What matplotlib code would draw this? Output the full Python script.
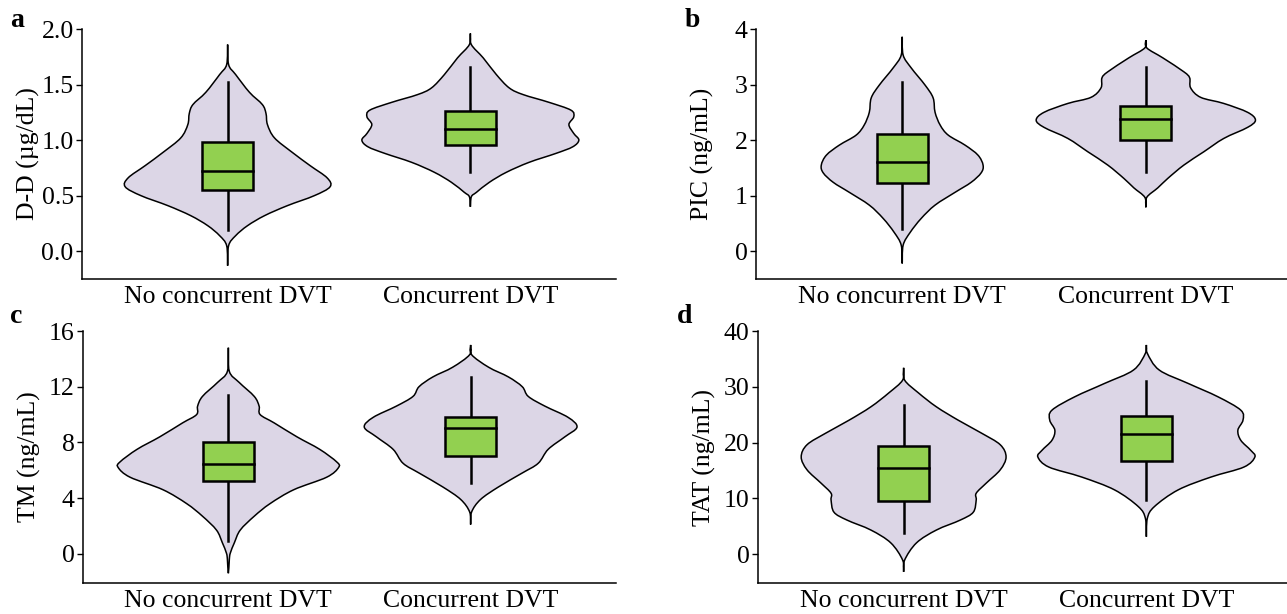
import numpy as np
import matplotlib
matplotlib.use("Agg")
import matplotlib.pyplot as plt
from matplotlib.path import Path
from matplotlib.patches import PathPatch, Rectangle

plt.rcParams['font.family'] = ['Liberation Serif', 'DejaVu Serif']

groups = ["No concurrent DVT", "Concurrent DVT"]

# violin outlines: value levels and half-widths (x units)
a_no_y = [1.86, 1.68, 1.59, 1.43, 1.32, 1.24, 1.14, 1.02, 0.89, 0.77, 0.66, 0.58, 0.50, 0.41, 0.32, 0.23, 0.14, 0.05, -0.13]
a_no_w = [0, .004, .033, .09, .143, .158, .164, .193, .266, .34, .41, .422, .357, .246, .152, .082, .033, .004, 0]
a_yes_y = [1.96, 1.86, 1.74, 1.59, 1.47, 1.41, 1.34, 1.27, 1.21, 1.14, 1.06, 1.00, 0.94, 0.88, 0.80, 0.71, 0.62, 0.53, 0.49, 0.40]
a_yes_w = [0, .004, .053, .107, .16, .217, .324, .414, .426, .406, .426, .447, .422, .352, .242, .148, .078, .025, .004, 0]

b_no_y = [3.86, 3.53, 3.30, 2.99, 2.76, 2.50, 2.27, 2.09, 1.91, 1.73, 1.55, 1.41, 1.24, 1.06, 0.83, 0.59, 0.34, 0.11, -0.22]
b_no_w = [0, .004, .037, .094, .127, .135, .156, .189, .258, .311, .332, .324, .283, .217, .135, .078, .033, .004, 0]
b_yes_y = [3.80, 3.66, 3.48, 3.23, 3.12, 2.94, 2.77, 2.66, 2.50, 2.36, 2.23, 2.03, 1.79, 1.55, 1.31, 1.14, 0.97, 0.79]
b_yes_w = [0, .004, .07, .156, .18, .184, .225, .32, .418, .45, .418, .32, .238, .156, .09, .049, .004, 0]

c_no_y = [14.8, 13.1, 12.3, 11.3, 10.6, 10.0, 9.4, 8.4, 7.5, 6.6, 6.2, 5.5, 4.6, 3.6, 2.7, 1.7, 0.8, 0.05, -0.4, -1.4]
c_no_w = [0, .004, .045, .107, .127, .131, .189, .283, .377, .447, .455, .406, .27, .172, .107, .049, .025, .008, .004, 0]
c_yes_y = [15.0, 14.3, 13.4, 12.7, 12.0, 11.3, 10.6, 9.8, 9.1, 8.4, 7.5, 6.5, 5.8, 4.8, 3.9, 3.0, 2.1]
c_yes_w = [0, .004, .074, .156, .213, .238, .307, .402, .439, .389, .32, .279, .213, .115, .041, .004, 0]

d_no_y = [33.4, 31.2, 28.9, 26.4, 24.0, 21.7, 19.6, 17.4, 15.1, 12.7, 10.9, 9.7, 7.5, 6.1, 4.3, 2.0, -1.1, -3.2]
d_no_w = [0, .004, .061, .135, .225, .32, .398, .422, .398, .34, .299, .299, .287, .234, .135, .053, .004, 0]
d_yes_y = [37.5, 36.0, 33.0, 30.6, 28.2, 25.8, 24.0, 22.2, 20.4, 18.6, 17.4, 15.6, 13.8, 11.5, 8.5, 6.4, 3.1]
d_yes_w = [0, .004, .053, .172, .295, .389, .398, .377, .389, .43, .447, .402, .266, .131, .033, .004, 0]

# box stats: whisker low, q1, median, q3, whisker high
a_no_box = [0.19, 0.55, 0.72, 0.98, 1.52]
a_yes_box = [0.71, 0.96, 1.10, 1.26, 1.66]
b_no_box = [0.40, 1.22, 1.60, 2.11, 3.04]
b_yes_box = [1.42, 2.00, 2.38, 2.61, 3.32]
c_no_box = [0.9, 5.2, 6.45, 8.05, 11.4]
c_yes_box = [5.1, 7.0, 9.0, 9.8, 12.7]
d_no_box = [3.8, 9.5, 15.4, 19.4, 26.7]
d_yes_box = [9.7, 16.7, 21.5, 24.8, 31.0]

violin_fill = "#DCD6E6"
box_fill = "#92D050"


def smooth_path(pts):
    # closed Catmull-Rom curve through the outline points, as Bezier segments
    pts = np.asarray(pts, float)
    n = len(pts)
    verts = [pts[0]]
    codes = [Path.MOVETO]
    for i in range(n):
        p0, p1, p2, p3 = pts[i - 1], pts[i], pts[(i + 1) % n], pts[(i + 2) % n]
        verts += [p1 + (p2 - p0) / 6, p2 - (p3 - p1) / 6, p2]
        codes += [Path.CURVE4] * 3
    return Path(verts, codes)


def violin(ax, x, ys, ws, box):
    right = [(x + w, y) for y, w in zip(ys, ws)]
    left = [(x - w, y) for y, w in zip(ys[::-1], ws[::-1])]
    outline = right + left[1:-1]
    ax.add_patch(PathPatch(smooth_path(outline), facecolor=violin_fill,
                           edgecolor="black", lw=1.1, zorder=2))
    lo, q1, med, q3, hi = box
    ax.plot([x, x], [lo, hi], color="black", lw=1.8, zorder=3)
    ax.add_patch(Rectangle((x - 0.105, q1), 0.21, q3 - q1, facecolor=box_fill,
                           edgecolor="black", lw=1.8, zorder=4))
    ax.plot([x - 0.105, x + 0.105], [med, med], color="black", lw=1.8, zorder=5)


fig = plt.figure(figsize=(12.87, 6.14), dpi=100)

panels = [
    ("a", [82, 279, 534, 250], "D-D (\u00b5g/dL)", (-0.25, 2.0), [0, 0.5, 1.0, 1.5, 2.0], "{:.1f}",
     (a_no_y, a_no_w, a_no_box), (a_yes_y, a_yes_w, a_yes_box), (10, 8)),
    ("b", [756, 279, 536, 250], "PIC (ng/mL)", (-0.5, 4), [0, 1, 2, 3, 4], "{:.0f}",
     (b_no_y, b_no_w, b_no_box), (b_yes_y, b_yes_w, b_yes_box), (685, 8)),
    ("c", [83, 583, 533, 252], "TM (ng/mL)", (-2.1, 16), [0, 4, 8, 12, 16], "{:.0f}",
     (c_no_y, c_no_w, c_no_box), (c_yes_y, c_yes_w, c_yes_box), (10, 304)),
    ("d", [758, 583, 534, 252], "TAT (ng/mL)", (-5.2, 40), [0, 10, 20, 30, 40], "{:.0f}",
     (d_no_y, d_no_w, d_no_box), (d_yes_y, d_yes_w, d_yes_box), (677, 304)),
]

W, H = 1287, 614
for letter, (l, b, w, h), ylabel, ylim, yticks, fmt, v1, v2, (lx, ly) in panels:
    ax = fig.add_axes([l / W, (H - b) / H, w / W, h / H])
    violin(ax, 1, *v1)
    violin(ax, 2, *v2)
    ax.set_xlim(0.4, 2.6)
    ax.set_ylim(*ylim)
    ax.set_xticks([1, 2])
    ax.set_xticklabels(groups)
    ax.set_yticks(yticks)
    ax.set_yticklabels([fmt.format(t) for t in yticks])
    ax.tick_params(axis="x", length=0, pad=5, labelsize=18.5)
    ax.tick_params(axis="y", length=4, width=1, pad=2, labelsize=18.5, direction="out")
    ax.set_ylabel(ylabel, fontsize=18.5)
    ax.yaxis.set_label_coords(-42 / w, 0.5)
    for s in ["top", "right"]:
        ax.spines[s].set_visible(False)
    for s in ["left", "bottom"]:
        ax.spines[s].set_linewidth(1.1)
    fig.text(lx / W, 1 - ly / H, letter, fontsize=20, fontweight="bold", ha="left", va="top")

fig.savefig("out.png", dpi=100)
